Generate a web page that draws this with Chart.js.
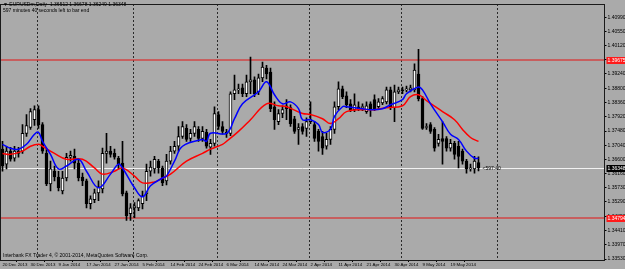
<!DOCTYPE html>
<html>
<head>
<meta charset="utf-8">
<script src="https://cdn.jsdelivr.net/npm/chart.js@4.4.0/dist/chart.umd.min.js"></script>
<style>
  html, body { margin: 0; padding: 0; background: #aaaaaa; }
  canvas { display: block; }
</style>
</head>
<body>
<canvas id="myChart" width="625" height="269"></canvas>
<script>
// EURUSDm daily, 20 Dec 2013 .. 26 May 2014
const opens = [
  1.3692,1.3646,1.3686,1.3664,1.3686,1.3686,1.3741,1.3759,1.3783,1.3814,
  1.3768,1.3679,1.3585,1.3624,1.3606,1.3563,1.3603,1.3667,1.3670,1.3649,
  1.3606,1.3594,1.3524,1.3536,1.3557,1.3569,1.3679,1.3686,1.3679,1.3664,
  1.3649,1.3557,1.3493,1.3511,1.3511,1.3524,1.3554,1.3624,1.3631,1.3655,
  1.3634,1.3594,1.3655,1.3686,1.3701,1.3731,1.3756,1.3725,1.3741,1.3753,
  1.3725,1.3744,1.3698,1.3710,1.3799,1.3762,1.3744,1.3741,1.3863,1.3875,
  1.3881,1.3863,1.3900,1.3906,1.3869,1.3912,1.3942,1.3930,1.3823,1.3777,
  1.3802,1.3826,1.3820,1.3786,1.3753,1.3762,1.3756,1.3777,1.3768,1.3747,
  1.3731,1.3701,1.3722,1.3753,1.3823,1.3878,1.3857,1.3832,1.3814,1.3823,
  1.3820,1.3808,1.3832,1.3845,1.3823,1.3835,1.3838,1.3875,1.3820,1.3869,
  1.3875,1.3875,1.3875,1.3875,1.3924,1.3848,1.3759,1.3768,1.3753,1.3710,
  1.3725,1.3725,1.3695,1.3710,1.3701,1.3686,1.3655,1.3631,1.3631,1.3651
];
const highs = [
  1.3716,1.3701,1.3698,1.3701,1.3698,1.3768,1.3799,1.3817,1.3826,1.3826,
  1.3774,1.3692,1.3655,1.3640,1.3624,1.3624,1.3679,1.3686,1.3692,1.3661,
  1.3618,1.3600,1.3548,1.3569,1.3594,1.3695,1.3741,1.3701,1.3692,1.3670,
  1.3716,1.3563,1.3524,1.3527,1.3539,1.3563,1.3646,1.3655,1.3670,1.3661,
  1.3640,1.3676,1.3701,1.3716,1.3762,1.3777,1.3768,1.3753,1.3777,1.3762,
  1.3762,1.3753,1.3722,1.3823,1.3808,1.3777,1.3753,1.3869,1.3921,1.3893,
  1.3893,1.3921,1.3976,1.3915,1.3924,1.3961,1.3951,1.3942,1.3838,1.3814,
  1.3826,1.3845,1.3829,1.3793,1.3771,1.3771,1.3789,1.3838,1.3777,1.3753,
  1.3747,1.3741,1.3762,1.3838,1.3900,1.3887,1.3869,1.3845,1.3863,1.3838,
  1.3832,1.3838,1.3838,1.3860,1.3848,1.3854,1.3884,1.3884,1.3890,1.3884,
  1.3884,1.3887,1.3890,1.3955,1.4000,1.3854,1.3771,1.3774,1.3759,1.3738,
  1.3777,1.3731,1.3722,1.3716,1.3716,1.3692,1.3661,1.3646,1.3670,1.3668
];
const lows = [
  1.3624,1.3631,1.3655,1.3655,1.3667,1.3679,1.3731,1.3753,1.3765,1.3756,
  1.3679,1.3579,1.3563,1.3594,1.3563,1.3554,1.3594,1.3655,1.3631,1.3594,
  1.3579,1.3511,1.3508,1.3527,1.3533,1.3557,1.3649,1.3667,1.3661,1.3631,
  1.3548,1.3472,1.3472,1.3481,1.3502,1.3508,1.3533,1.3609,1.3618,1.3618,
  1.3579,1.3582,1.3646,1.3679,1.3686,1.3725,1.3716,1.3716,1.3731,1.3716,
  1.3716,1.3695,1.3676,1.3701,1.3753,1.3738,1.3728,1.3734,1.3845,1.3863,
  1.3854,1.3854,1.3863,1.3854,1.3860,1.3900,1.3909,1.3808,1.3753,1.3768,
  1.3789,1.3783,1.3762,1.3741,1.3707,1.3738,1.3731,1.3771,1.3716,1.3686,
  1.3676,1.3692,1.3707,1.3741,1.3814,1.3848,1.3820,1.3808,1.3808,1.3811,
  1.3811,1.3802,1.3793,1.3811,1.3817,1.3829,1.3832,1.3814,1.3777,1.3863,
  1.3863,1.3869,1.3869,1.3869,1.3841,1.3753,1.3753,1.3741,1.3686,1.3701,
  1.3646,1.3686,1.3686,1.3661,1.3634,1.3646,1.3618,1.3624,1.3618,1.3625
];
const closes = [
  1.3640,1.3686,1.3661,1.3686,1.3679,1.3741,1.3765,1.3808,1.3814,1.3768,
  1.3686,1.3585,1.3631,1.3606,1.3573,1.3603,1.3667,1.3673,1.3649,1.3603,
  1.3594,1.3524,1.3539,1.3557,1.3576,1.3679,1.3686,1.3676,1.3667,1.3646,
  1.3554,1.3487,1.3511,1.3517,1.3533,1.3548,1.3624,1.3637,1.3661,1.3634,
  1.3588,1.3655,1.3686,1.3701,1.3731,1.3762,1.3722,1.3741,1.3762,1.3725,
  1.3747,1.3701,1.3710,1.3802,1.3762,1.3747,1.3741,1.3863,1.3875,1.3878,
  1.3863,1.3900,1.3906,1.3863,1.3912,1.3945,1.3924,1.3817,1.3783,1.3802,
  1.3814,1.3817,1.3771,1.3747,1.3759,1.3747,1.3777,1.3783,1.3725,1.3716,
  1.3695,1.3722,1.3753,1.3823,1.3878,1.3854,1.3829,1.3814,1.3829,1.3817,
  1.3823,1.3826,1.3814,1.3817,1.3838,1.3848,1.3875,1.3823,1.3869,1.3875,
  1.3872,1.3878,1.3881,1.3936,1.3848,1.3756,1.3762,1.3747,1.3695,1.3722,
  1.3716,1.3695,1.3710,1.3676,1.3670,1.3655,1.3631,1.3634,1.3655,1.3635
];

// moving averages (blue = fast, red = slow), read at sample bars
const blueIdx = [0,2,4,6,8,9,10,12,14,16,19,21,24,27,29,30,33,35,37,40,41,43,45,50,51,52,56,58,60,64,
  66,68,70,72,74,75,77,79,80,82,83,85,86,90,92,95,97,100,101,104,105,107,110,112,114,116,118,119];
const blueVal = [1.3707,1.3695,1.3692,1.3707,1.3738,1.3744,1.3716,1.3676,1.3631,1.3640,1.3661,1.3624,
  1.3573,1.3615,1.3646,1.3634,1.3573,1.3545,1.3579,1.3603,1.3609,1.3655,1.3701,1.3722,1.3716,1.3741,
  1.3741,1.3786,1.3832,1.3869,1.3900,1.3860,1.3832,1.3838,1.3817,1.3783,1.3783,1.3768,1.3744,1.3753,
  1.3793,1.3823,1.3823,1.3817,1.3814,1.3817,1.3829,1.3845,1.3863,1.3884,1.3875,1.3832,1.3777,1.3738,
  1.3722,1.3686,1.3664,1.3664];
const redIdx = [0,2,5,7,9,10,13,16,20,23,25,28,30,33,35,38,40,42,46,50,52,55,56,59,62,66,69,71,75,77,
  80,82,84,86,90,93,96,100,102,104,106,110,113,115,117,119];
const redVal = [1.3679,1.3676,1.3686,1.3701,1.3707,1.3701,1.3679,1.3661,1.3661,1.3634,1.3615,1.3624,
  1.3634,1.3609,1.3588,1.3591,1.3603,1.3615,1.3655,1.3679,1.3692,1.3707,1.3716,1.3747,1.3783,1.3832,
  1.3826,1.3823,1.3802,1.3799,1.3786,1.3771,1.3786,1.3808,1.3814,1.3814,1.3820,1.3826,1.3854,1.3860,
  1.3842,1.3808,1.3783,1.3753,1.3728,1.3716];

const tickLabels = ['20 Dec 2013','30 Dec 2013','9 Jan 2014','17 Jan 2014','27 Jan 2014','5 Feb 2014',
  '14 Feb 2014','24 Feb 2014','6 Mar 2014','14 Mar 2014','24 Mar 2014','2 Apr 2014','11 Apr 2014',
  '21 Apr 2014','30 Apr 2014','9 May 2014','19 May 2014'];
const yTickLabels = ['1.33530','1.33970','1.34410','1.34850','1.35290','1.35730','1.36160','1.36600',
  '1.37040','1.37480','1.37920','1.38360','1.38800','1.39240','1.39680','1.40120','1.40550','1.40990'];

const monthSeps = [8.5, 32.5, 53.5, 76.5, 99.5, 123.5];   // period separators (between bars)
const redLevels = [1.39670, 1.34794];
const bidPrice = 1.36348;
const totalSlots = 151;

const cats = Array.from({length: totalSlots}, (_, i) => String(i));

const mtPlugin = {
  id: 'mt',
  beforeDraw(chart) {
    const ctx = chart.ctx;
    ctx.save();
    ctx.fillStyle = '#aaaaaa';
    ctx.fillRect(0, 0, chart.width, chart.height);
    ctx.restore();
  },
  beforeDatasetsDraw(chart) {
    const {ctx, chartArea: a, scales: {x, y}} = chart;
    ctx.save();
    ctx.strokeStyle = '#2a2a2a';
    ctx.lineWidth = 1;
    ctx.setLineDash([2, 2]);
    monthSeps.forEach(v => {
      const px = Math.round(x.getPixelForValue(v)) + 0.5;
      ctx.beginPath(); ctx.moveTo(px, a.top); ctx.lineTo(px, a.bottom); ctx.stroke();
    });
    ctx.setLineDash([]);
    // bid line
    let py = Math.round(y.getPixelForValue(bidPrice)) + 0.5;
    ctx.strokeStyle = '#f2f2f2';
    ctx.beginPath(); ctx.moveTo(a.left, py); ctx.lineTo(a.right, py); ctx.stroke();
    // horizontal levels
    ctx.strokeStyle = 'rgba(215,50,50,0.85)';
    ctx.lineWidth = 1.5;
    redLevels.forEach(v => {
      const p = y.getPixelForValue(v);
      ctx.beginPath(); ctx.moveTo(a.left, p); ctx.lineTo(a.right, p); ctx.stroke();
    });
    ctx.restore();
  },
  afterDraw(chart) {
    const {ctx, chartArea: a, scales: {x, y}} = chart;
    ctx.save();
    ctx.strokeStyle = '#1a1a1a';
    ctx.lineWidth = 1;
    ctx.strokeRect(a.left, a.top + 0.5, a.right - a.left, a.bottom - a.top);
    ctx.font = '5px "Liberation Sans", sans-serif';
    ctx.textBaseline = 'middle';
    // price labels on the axis
    const tag = (v, bg, txt) => {
      const p = Math.round(y.getPixelForValue(v));
      ctx.fillStyle = bg;
      ctx.fillRect(a.right + 2, p - 3, 19, 7);
      ctx.fillStyle = '#ffffff';
      ctx.textAlign = 'left';
      ctx.fillText(txt, a.right + 3, p + 0.5);
    };
    tag(redLevels[0], '#ff1a1a', '1.39675');
    tag(redLevels[1], '#ff1a1a', '1.34794');
    tag(bidPrice, '#000000', '1.36348');
    // texts
    ctx.fillStyle = '#000000';
    ctx.textAlign = 'left';
    ctx.fillText('\u25BC EURUSDm,Daily  1.36512 1.36678 1.36249 1.36348', 3, 5);
    ctx.fillText('597 minutes 40 seconds left to bar end', 3, 11);
    ctx.fillText('Interbank FX Trader 4, \u00A9 2001-2014, MetaQuotes Software Corp.', 3, 256);
    const lx = x.getPixelForValue(opens.length - 1) + 4;
    ctx.fillText('<597:40', lx, Math.round(y.getPixelForValue(bidPrice)) + 1);
    ctx.restore();
  }
};

const ctx = document.getElementById('myChart').getContext('2d');
const myChart = new Chart(ctx, {
  type: 'bar',
  data: {
    labels: cats,
    datasets: [
      {
        type: 'line',
        data: blueIdx.map((v, i) => ({x: String(v), y: blueVal[i]})),
        borderColor: '#0000ff',
        borderWidth: 1.5,
        pointRadius: 0,
        tension: 0.4,
        spanGaps: true,
        order: 0
      },
      {
        type: 'line',
        data: redIdx.map((v, i) => ({x: String(v), y: redVal[i]})),
        borderColor: '#ff0000',
        borderWidth: 1.5,
        pointRadius: 0,
        tension: 0.4,
        spanGaps: true,
        order: 0
      },
      {
        data: opens.map((o, i) => [o, closes[i]]),
        backgroundColor: opens.map((o, i) => closes[i] >= o ? '#ffffff' : '#000000'),
        borderColor: '#000000',
        borderWidth: 1,
        borderSkipped: false,
        barThickness: 3,
        minBarLength: 1,
        grouped: false,
        order: 1
      },
      {
        data: lows.map((l, i) => [l, highs[i]]),
        backgroundColor: '#000000',
        borderWidth: 0,
        barThickness: 1,
        grouped: false,
        order: 2
      }
    ]
  },
  options: {
    responsive: false,
    devicePixelRatio: 1,
    animation: false,
    layout: { padding: { left: 0.5, top: 0, right: 0, bottom: 0 }, autoPadding: false },
    plugins: { legend: { display: false }, tooltip: { enabled: false } },
    scales: {
      x: {
        type: 'category',
        offset: true,
        grid: { display: true, drawOnChartArea: false, drawTicks: true, tickLength: 2, color: '#000' },
        border: { display: true, color: '#1a1a1a' },
        ticks: {
          autoSkip: false,
          maxRotation: 0,
          align: 'start',
          padding: 0,
          color: '#000',
          font: { size: 4.4, family: '"Liberation Sans", sans-serif' },
          callback: (v) => (v % 7 === 0 && tickLabels[v / 7]) ? tickLabels[v / 7] : null
        },
        afterFit: (s) => { s.height = 9; }
      },
      y: {
        position: 'right',
        min: 1.3350,
        max: 1.4140,
        grid: { display: true, drawOnChartArea: false, drawTicks: true, tickLength: 2, color: '#000' },
        border: { display: true, color: '#1a1a1a' },
        afterBuildTicks: (s) => { s.ticks = yTickLabels.map(t => ({value: parseFloat(t)})); },
        ticks: {
          padding: 1,
          color: '#000',
          font: { size: 5, family: '"Liberation Sans", sans-serif' },
          callback: (v) => v.toFixed(5)
        },
        afterFit: (s) => { s.width = 20.5; }
      }
    }
  },
  plugins: [mtPlugin]
});
</script>
</body>
</html>
